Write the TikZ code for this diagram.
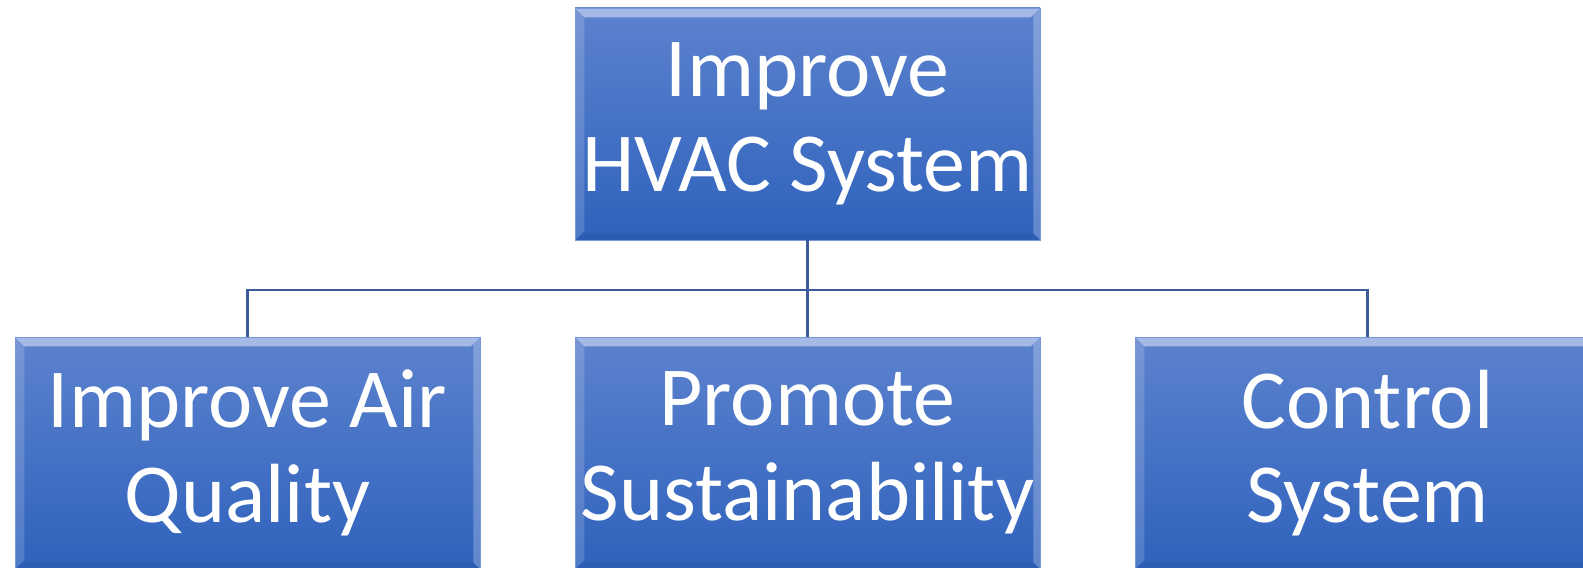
\documentclass[tikz,border=0pt]{standalone}
\usepackage{fontspec}
\setmainfont{Carlito}
\definecolor{boxtop}{RGB}{92,130,206}
\definecolor{boxbot}{RGB}{47,98,188}
\definecolor{boxedge}{RGB}{118,152,218}
\definecolor{linkblue}{RGB}{58,90,154}
\tikzset{every picture/.style={line width=0.75pt}}
\tikzset{
  goalbox/.style={rectangle, draw=boxedge, line width=0.6pt,
    top color=boxtop, bottom color=boxbot,
    minimum width=348.75pt, minimum height=174pt, inner sep=0pt,
    text=white, align=center, font=\fontsize{63}{71}\selectfont,
    path picture={
      \fill[white,opacity=0.45] (path picture bounding box.north west) -- (path picture bounding box.north east)
        -- ([xshift=-7pt,yshift=-7pt]path picture bounding box.north east) -- ([xshift=7pt,yshift=-7pt]path picture bounding box.north west) -- cycle;
      \fill[white,opacity=0.16] (path picture bounding box.north west) -- ([xshift=7pt,yshift=-7pt]path picture bounding box.north west)
        -- ([xshift=7pt,yshift=7pt]path picture bounding box.south west) -- (path picture bounding box.south west) -- cycle;
      \fill[white,opacity=0.24] (path picture bounding box.north east) -- ([xshift=-5pt,yshift=-5pt]path picture bounding box.north east)
        -- ([xshift=-5pt,yshift=5pt]path picture bounding box.south east) -- (path picture bounding box.south east) -- cycle;
      \fill[black,opacity=0.05] (path picture bounding box.south west) -- ([xshift=7pt,yshift=5pt]path picture bounding box.south west)
        -- ([xshift=-5pt,yshift=5pt]path picture bounding box.south east) -- (path picture bounding box.south east) -- cycle;
    }},
  link/.style={draw=linkblue, line width=1.6pt}
}
\begin{document}
\begin{tikzpicture}[x=0.75pt,y=0.75pt,yscale=-1,xscale=1]
\useasboundingbox (0,0) rectangle (1583,567);
\clip (0,0) rectangle (1583,567);

%Shape: Rectangle [top]
\node[goalbox] (hvac) at (807.5,124) {\raisebox{-4pt}{Improve}\\\raisebox{-4pt}{HVAC System}};
%Shape: Rectangle [left]
\node[goalbox] (air) at (247.5,453) {\raisebox{-4pt}{Improve Air}\\\raisebox{-4pt}{Quality}};
%Shape: Rectangle [middle]
\node[goalbox] (sust) at (807.5,453) {\raisebox{-4pt}{Promote}\\\raisebox{-4pt}{Sustainability}};
%Shape: Rectangle [right]
\node[goalbox] (ctrl) at (1367.5,453) {\raisebox{-4pt}{Control}\\\raisebox{-4pt}{System}};

%Straight Lines
\coordinate (bus) at (807.5,290);
\draw[link] (hvac.south) -- (bus);
\draw[link] (air.north) |- (bus) -| (ctrl.north);
\draw[link] (bus) -- (sust.north);

\end{tikzpicture}
\end{document}
